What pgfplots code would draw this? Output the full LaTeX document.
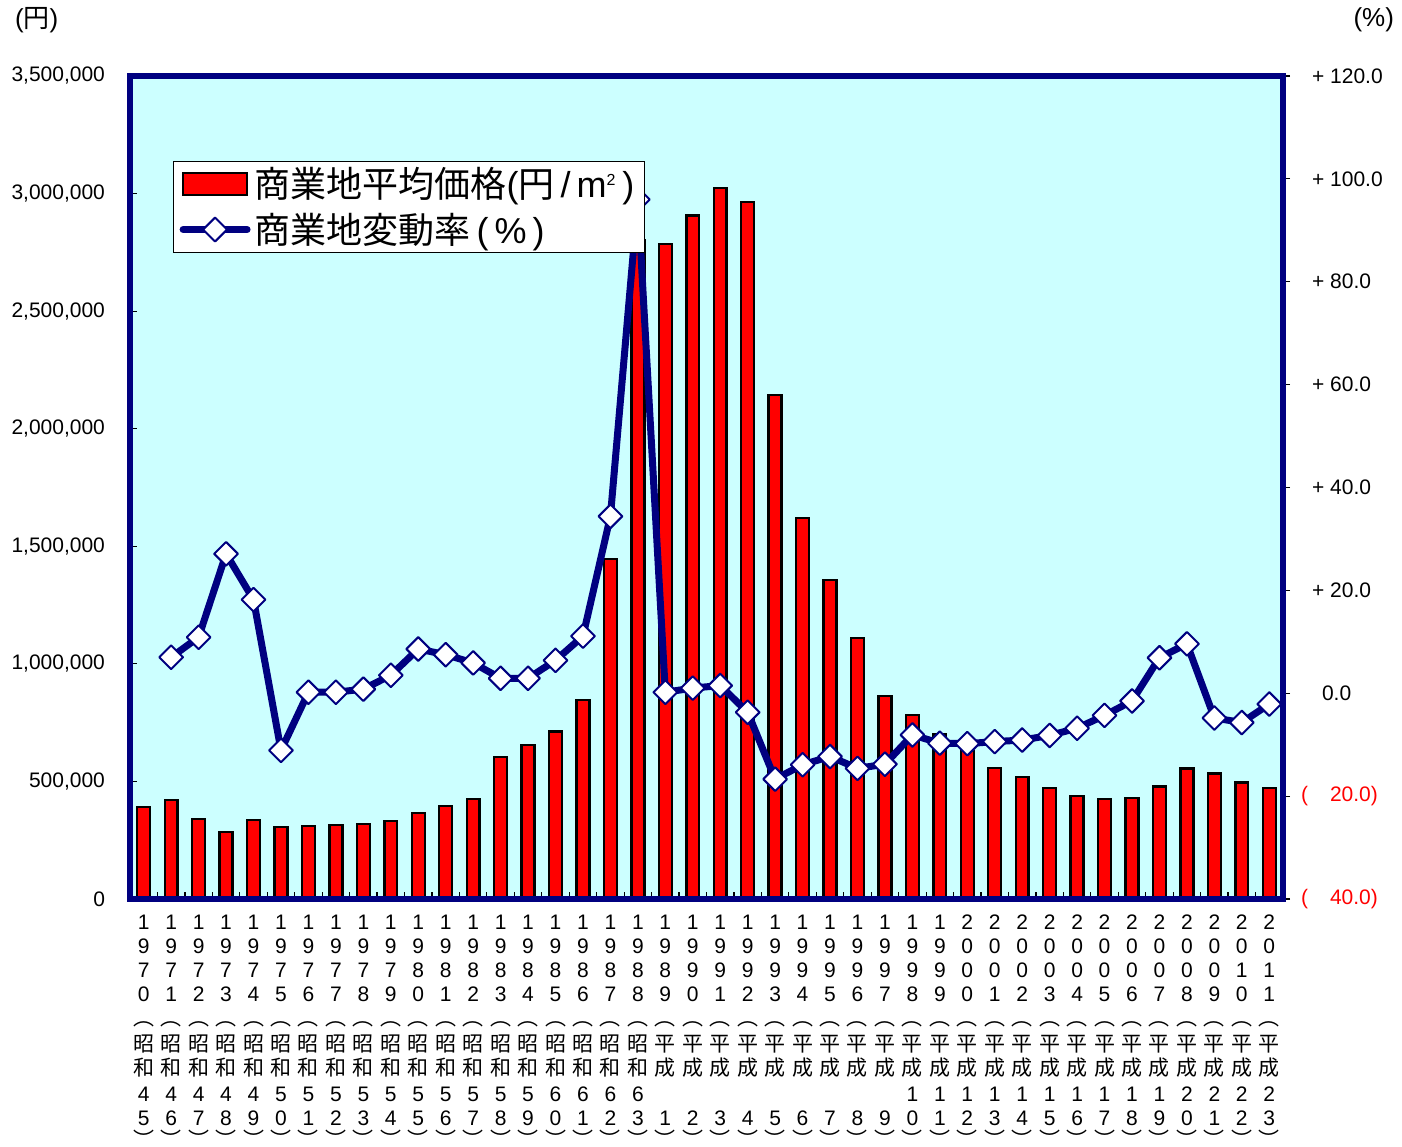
\documentclass[border=0pt]{standalone}
\usepackage{fontspec}
\setmainfont{Liberation Sans}
\newfontfamily\cjk{Noto Sans CJK JP}
\usepackage{pgfplots}
\usepackage{pgfplotstable}
\pgfplotsset{compat=1.18}
\definecolor{navy}{HTML}{000080}
\definecolor{bg}{HTML}{CCFFFF}

\def\yr#1#2#3#4{#1\\#2\\#3\\#4}
\def\era#1#2{{\cjk #1}\\{\cjk #2}}
\newcommand{\vl}[4]{\yr#1\\{\cjk ︵}\\[1pt]\era#2\\[1pt]\strut#3\\#4\\\raisebox{1pt}{\cjk ︶}}

\pgfplotstableread{
x price rate
0 391000 nan
1 421000 7.0
2 340000 10.9
3 285000 27.1
4 336000 18.2
5 306000 -11.1
6 310000 0.2
7 315000 0.2
8 319000 0.8
9 332000 3.5
10 366000 8.6
11 395000 7.5
12 425000 5.9
13 604000 2.9
14 655000 2.9
15 712000 6.4
16 846000 11.1
17 1446000 34.4
18 2800000 96.0
19 2786000 0.2
20 2907000 1.0
21 3024000 1.5
22 2964000 -3.7
23 2143000 -16.7
24 1620000 -13.9
25 1357000 -12.3
26 1110000 -14.6
27 863000 -13.8
28 782000 -8.1
29 700000 -9.7
30 630000 -9.8
31 557000 -9.4
32 519000 -9.1
33 472000 -8.2
34 438000 -6.8
35 425000 -4.3
36 430000 -1.5
37 478000 6.9
38 555000 9.6
39 534000 -4.8
40 495000 -5.7
41 473000 -2.1
}\data

\begin{document}
\begin{tikzpicture}
\begin{axis}[
  scale only axis, width=576.5pt, height=411.5pt,
  at={(0,0)}, anchor=south west,
  xmin=-0.5, xmax=41.5, ymin=0, ymax=3500000,
  axis background/.style={fill=bg},
  axis line style={draw=navy, line width=3pt},
  every tick/.style={black, line width=0.6pt},
  tick align=inside,
  ytick={0,500000,...,3500000},
  scaled y ticks=false,
  /pgf/number format/assume math mode=true,
  yticklabel style={/pgf/number format/fixed, /pgf/number format/1000 sep={,}, xshift=-9pt},
  ytick pos=left,
  major tick length=3.5pt, minor tick length=3.5pt,
  xtick={0,...,41},
  xtick pos=bottom,
  major x tick style={draw=none},
  minor x tick num=1,
  xticklabel style={anchor=north, align=center, font=\fontsize{10.5}{12}\selectfont, yshift=-4.5pt},
  font=\fontsize{10.5}{12.5}\selectfont,
  xticklabels={
   \vl{1970}{昭和}{4}{5},\vl{1971}{昭和}{4}{6},\vl{1972}{昭和}{4}{7},\vl{1973}{昭和}{4}{8},\vl{1974}{昭和}{4}{9},
   \vl{1975}{昭和}{5}{0},\vl{1976}{昭和}{5}{1},\vl{1977}{昭和}{5}{2},\vl{1978}{昭和}{5}{3},\vl{1979}{昭和}{5}{4},
   \vl{1980}{昭和}{5}{5},\vl{1981}{昭和}{5}{6},\vl{1982}{昭和}{5}{7},\vl{1983}{昭和}{5}{8},\vl{1984}{昭和}{5}{9},
   \vl{1985}{昭和}{6}{0},\vl{1986}{昭和}{6}{1},\vl{1987}{昭和}{6}{2},\vl{1988}{昭和}{6}{3},
   \vl{1989}{平成}{}{1},\vl{1990}{平成}{}{2},\vl{1991}{平成}{}{3},\vl{1992}{平成}{}{4},\vl{1993}{平成}{}{5},
   \vl{1994}{平成}{}{6},\vl{1995}{平成}{}{7},\vl{1996}{平成}{}{8},\vl{1997}{平成}{}{9},
   \vl{1998}{平成}{1}{0},\vl{1999}{平成}{1}{1},\vl{2000}{平成}{1}{2},\vl{2001}{平成}{1}{3},\vl{2002}{平成}{1}{4},
   \vl{2003}{平成}{1}{5},\vl{2004}{平成}{1}{6},\vl{2005}{平成}{1}{7},\vl{2006}{平成}{1}{8},\vl{2007}{平成}{1}{9},
   \vl{2008}{平成}{2}{0},\vl{2009}{平成}{2}{1},\vl{2010}{平成}{2}{2},\vl{2011}{平成}{2}{3}},
  clip=false,
]
\addplot[ybar, bar width=0.47, fill=red, draw=black, line width=1.2pt] table[x=x,y=price]{\data};
\node[anchor=west, font=\fontsize{13}{15}\selectfont] at (rel axis cs:0,1) [xshift=-61pt, yshift=28pt] {({\cjk 円})};
\node[anchor=east, font=\fontsize{13}{15}\selectfont] at (rel axis cs:1,1) [xshift=59pt, yshift=28pt] {(\%)};
\end{axis}
\begin{axis}[
  scale only axis, width=576.5pt, height=411.5pt,
  at={(0,0)}, anchor=south west,
  xmin=-0.5, xmax=41.5, ymin=-40, ymax=120,
  axis line style={draw=navy, line width=3pt},
  every tick/.style={black, line width=0.6pt},
  xtick=\empty,
  ytick={-40,-20,...,120},
  ytick pos=right, yticklabel pos=right,
  tick align=outside, major tick length=3.5pt,
  font=\fontsize{10.5}{12.5}\selectfont,
  yticklabel style={anchor=west, xshift=7.5pt},
  yticklabels={
    {\textcolor{red}{\hspace*{-5.5pt}(\hspace{11pt}40.0)}},
    {\textcolor{red}{\hspace*{-5.5pt}(\hspace{11pt}20.0)}},
    {\hspace*{5pt}0.0},
    {+ 20.0},{+ 40.0},{+ 60.0},{+ 80.0},{+ 100.0},{+ 120.0}},
  unbounded coords=discard,
  legend style={at={(0.0373,0.8967)}, anchor=north west, draw=black, line width=0.6pt, fill=white,
    font=\fontsize{18}{21}\selectfont, inner xsep=3pt, inner ysep=1pt, row sep=2pt},
  legend cell align=left,
  clip=false,
]
\addlegendimage{legend image code/.code={\draw[fill=red,draw=black,line width=1.2pt] (0pt,-5.5pt) rectangle (32pt,5.5pt);}}
\addlegendentry{{\cjk 商業地平均価格}({\cjk 円}\,/\,m\textsuperscript{\fontsize{8}{8}\selectfont 2}\,)}
\addplot[navy, line width=3.5pt, line join=round, mark=square*, mark size=4.2pt,
  mark options={fill=white, draw=navy, line width=1pt, rotate=45, solid},
  legend image code/.code={\draw[navy, line width=3.5pt, line cap=round] (0pt,0pt) -- (32pt,0pt);
     \draw[fill=white, draw=navy, line width=1pt] (16pt,6pt) -- (22pt,0pt) -- (16pt,-6pt) -- (10pt,0pt) -- cycle;}]
  table[x=x,y=rate]{\data};
\addlegendentry{{\cjk 商業地変動率}\,(\,\%\,)}
\end{axis}
\pgfresetboundingbox
\path (-65pt,-123.5pt) rectangle (636pt,449.5pt);
\end{tikzpicture}
\end{document}
